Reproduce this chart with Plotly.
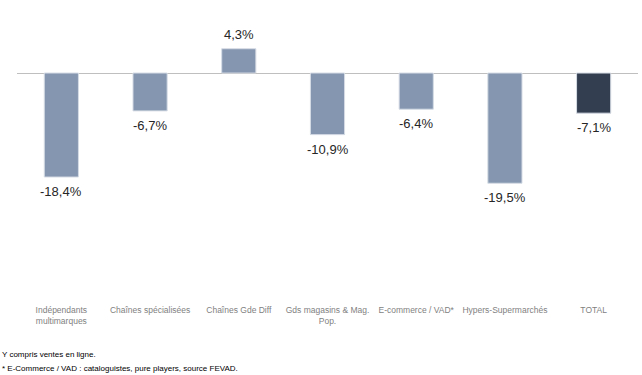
import plotly.graph_objects as go

categories = ["Indépendants<br>multimarques", "Chaînes spécialisées", "Chaînes Gde Diff",
              "Gds magasins & Mag.<br>Pop.", "E-commerce / VAD*", "Hypers-Supermarchés", "TOTAL"]
values = [-18.4, -6.7, 4.3, -10.9, -6.4, -19.5, -7.1]
labels = ["-18,4%", "-6,7%", "4,3%", "-10,9%", "-6,4%", "-19,5%", "-7,1%"]
colors = ["#8496B0"] * 6 + ["#333F50"]
footnotes = ["Y compris ventes en ligne.", "* E-Commerce / VAD : cataloguistes, pure players, source FEVAD."]

fig = go.Figure(go.Bar(
    x=categories, y=values,
    marker=dict(color=colors, line=dict(color="#D6DCE5", width=1)),
    cliponaxis=False,
))

for c, v, t in zip(categories, values, labels):
    fig.add_annotation(x=c, y=v, text=t, showarrow=False,
                       yanchor="top" if v < 0 else "bottom",
                       yshift=-5 if v < 0 else 5,
                       font=dict(family="Liberation Sans, Arial", size=13, color="#262626"))

fig.update_layout(
    width=642, height=375,
    margin=dict(l=17, r=4, t=20, b=77),
    paper_bgcolor="white", plot_bgcolor="white",
    bargap=0.615, showlegend=False,
    xaxis=dict(showgrid=False, showline=False, ticks="", range=[-0.5, 6.5],
               ticklabelstandoff=5,
               tickfont=dict(family="Liberation Sans, Arial", size=8.5, color="#7F7F7F")),
    yaxis=dict(range=[-39.8, 9.38], showgrid=False, showticklabels=False,
               zeroline=True, zerolinecolor="#BFBFBF", zerolinewidth=1),
)

for i, (t, y) in enumerate(zip(footnotes, [-0.205, -0.252])):
    fig.add_annotation(text=t, xref="paper", yref="paper", x=-0.0274, y=y,
                       xanchor="left", yanchor="middle", showarrow=False,
                       font=dict(family="Liberation Sans Narrow, Liberation Sans, Arial", size=8, color="#000000"))

fig.write_html("out.html", config={"displayModeBar": False},
               post_script="document.body.style.margin='0';document.body.style.overflow='hidden';")
